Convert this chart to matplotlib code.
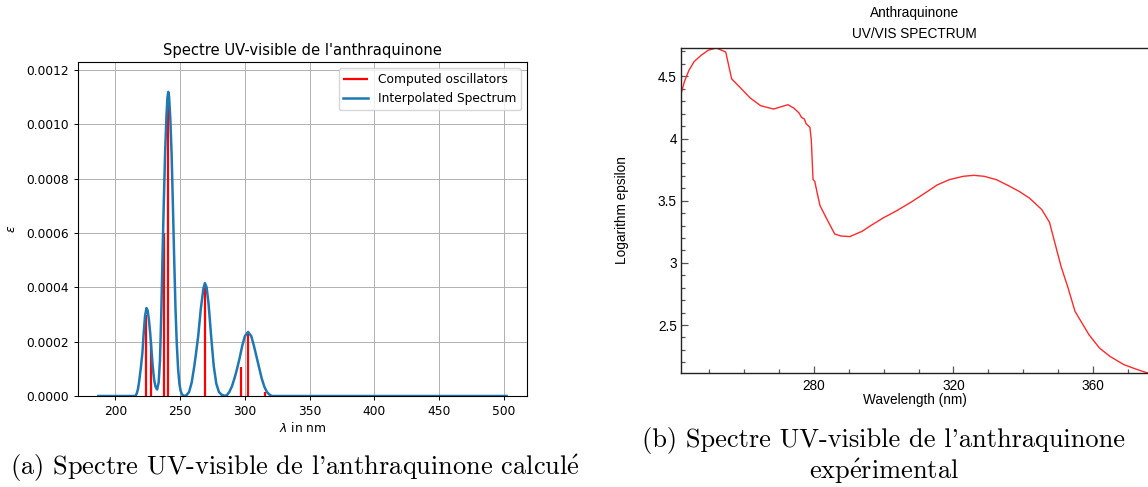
import matplotlib
matplotlib.use("Agg")
import matplotlib.pyplot as plt
from matplotlib.ticker import MultipleLocator, FuncFormatter

# computed oscillators (left plot)
osc_nm = [224.1, 227.4, 237.7, 240.8, 268.9, 296.9, 302.8, 315.6]
osc_eps = [3.0e-4, 2.0e-4, 6.0e-4, 1.08e-3, 4.04e-4, 1.08e-4, 2.31e-4, 1.5e-5]

# interpolated spectrum (units of 1e-4)
spec_nm = [187, 214, 215.5, 216.5, 217.5, 218.5, 219.5, 220, 221, 222, 223, 224.1,
           225, 226, 227, 228, 229, 230, 231, 232.3, 233.5, 234.5, 235.5, 236.5,
           237.5, 238.5, 239.5, 240.3, 240.9, 241.5, 242.5, 243.5, 244.5, 245.5,
           246.5, 247.5, 248.5, 249.5, 250.5, 251.5, 253, 255, 257, 259, 261, 262,
           264, 266, 268, 269.2, 270.5, 272, 274, 276, 278, 280, 282, 284, 286,
           288, 290, 292, 294, 296, 298, 300, 302.5, 305, 307, 309, 311, 313, 315,
           317, 319, 321, 502]
spec_val = [0, 0, 0, 0.08, 0.25, 0.55, 0.95, 1.15, 1.62, 2.35, 2.95, 3.24,
            3.15, 2.8, 2.3, 1.65, 1.05, 0.6, 0.35, 0.24, 0.5, 1.3, 3.0, 5.2,
            7.2, 9.0, 10.3, 11.0, 11.2, 11.05, 10.2, 8.9, 7.0, 5.0,
            3.2, 1.9, 1.0, 0.45, 0.18, 0.06, 0, 0.03, 0.15, 0.5, 1.1, 1.45,
            2.2, 3.2, 3.95, 4.16, 4.0, 3.4, 2.2, 1.1, 0.45, 0.15, 0.05, 0.01, 0.02,
            0.15, 0.35, 0.65, 1.0, 1.4, 1.85, 2.2, 2.36, 2.2, 1.85, 1.45, 1.05, 0.65, 0.35,
            0.15, 0.05, 0, 0]

# experimental spectrum (right plot)
exp_nm = [242.0, 243.0, 244.3, 245.8, 247.8, 249.8, 252.1, 254.8, 256.5, 258.8,
          261.8, 264.8, 268.5, 272.6, 274.3, 275.8, 276.5, 277.3, 277.8, 278.9,
          279.3, 279.8, 280.3, 281.0, 281.8, 283.8, 286.0, 287.8, 290.3, 293.8,
          295.8, 299.8, 303.8, 307.8, 311.8, 315.3, 318.8, 322.8, 325.8, 328.8,
          332.3, 335.8, 338.8, 341.8, 345.3, 347.5, 348.8, 350.8, 352.8, 354.8,
          356.8, 358.8, 361.8, 364.8, 368.8, 372.8, 375.6, 377.0]
exp_log = [4.358, 4.46, 4.55, 4.62, 4.67, 4.71, 4.728, 4.696, 4.48, 4.414,
           4.326, 4.264, 4.237, 4.272, 4.245, 4.205, 4.17, 4.157, 4.12, 4.09,
           3.99, 3.67, 3.655, 3.56, 3.46, 3.35, 3.232, 3.216, 3.211, 3.253,
           3.29, 3.36, 3.42, 3.487, 3.56, 3.626, 3.669, 3.696, 3.704, 3.696,
           3.669, 3.62, 3.575, 3.52, 3.428, 3.326, 3.186, 2.972, 2.8, 2.61,
           2.516, 2.422, 2.315, 2.248, 2.181, 2.14, 2.114, 2.10]

W, H = 1148, 487
fig = plt.figure(figsize=(W / 100, H / 100), dpi=100)

# ---- (a) computed spectrum
fs = 8.8
ax1 = fig.add_axes([78 / W, 1 - 396 / H, (527 - 78) / W, (396 - 62) / H])
ax1.vlines(osc_nm, 0, osc_eps, color="red", lw=1.6, label="Computed oscillators")
ax1.plot(spec_nm, [v * 1e-4 for v in spec_val], color="C0", lw=1.8,
         label="Interpolated Spectrum")
ax1.set_xlim(171.25, 517.75)
ax1.set_ylim(0, 0.00123)
ax1.set_xticks([200, 250, 300, 350, 400, 450, 500])
ax1.set_yticks([0, 0.0002, 0.0004, 0.0006, 0.0008, 0.0010, 0.0012])
ax1.yaxis.set_major_formatter(FuncFormatter(lambda v, p: f"{v:.4f}"))
ax1.tick_params(labelsize=fs, length=3, width=0.7)
ax1.grid(True, color="#b0b0b0", lw=0.7)
ax1.set_axisbelow(True)
ax1.set_title("Spectre UV-visible de l'anthraquinone", fontsize=10.6, pad=5)
ax1.set_xlabel(r"$\lambda$ in nm", fontsize=fs, labelpad=2)
ax1.set_ylabel(r"$\epsilon$", fontsize=fs, labelpad=6)
ax1.legend(loc="upper right", fontsize=fs)
for s in ax1.spines.values():
    s.set_linewidth(0.8)

# ---- (b) experimental spectrum
afont = "Liberation Sans"
fs2 = 9.8
ax2 = fig.add_axes([681 / W, 1 - 373 / H, (W - 681) / W, (373 - 48) / H])
ax2.plot(exp_nm, exp_log, color="#ff2a2a", lw=1.0)
ax2.set_xlim(242.0, 375.7)
ax2.set_ylim(2.114, 4.728)
ax2.xaxis.set_major_locator(MultipleLocator(40))
ax2.xaxis.set_minor_locator(MultipleLocator(10))
ax2.yaxis.set_major_locator(MultipleLocator(0.5))
ax2.yaxis.set_minor_locator(MultipleLocator(0.1))
ax2.yaxis.set_major_formatter(FuncFormatter(lambda v, p: f"{v:g}"))
ax2.tick_params(which="both", direction="in", color="#555555", width=0.9)
ax2.tick_params(which="major", length=5)
ax2.tick_params(which="minor", length=3)
ax2.tick_params(axis="y", pad=3)
ax2.tick_params(axis="x", pad=4)
for lab in ax2.get_xticklabels() + ax2.get_yticklabels():
    lab.set_fontfamily(afont)
    lab.set_fontsize(fs2)
ax2.spines["right"].set_visible(False)
for s in ax2.spines.values():
    s.set_linewidth(1.0)
    s.set_color("#222222")
ax2.set_xlabel("Wavelength (nm)", fontfamily=afont, fontsize=fs2)
ax2.xaxis.set_label_coords(0.5, (373 - 400) / 325)
ax2.xaxis.label.set_va("center")
ax2.set_ylabel("Logarithm epsilon", fontfamily=afont, fontsize=fs2)
ax2.yaxis.set_label_coords((622 - 681) / (W - 681), 0.5)
ax2.yaxis.label.set_va("center")
fig.text(914.5 / W, 1 - 13.5 / H, "Anthraquinone", family=afont, fontsize=fs2,
         ha="center", va="center")
fig.text(914.5 / W, 1 - 33.5 / H, "UV/VIS SPECTRUM", family=afont, fontsize=fs2,
         ha="center", va="center")

# ---- captions
plt.rcParams["mathtext.fontset"] = "cm"
cap = dict(family="cmr10", fontsize=19, ha="center", va="center")
fig.text(295 / W, 1 - 468 / H,
         r"(a) Spectre UV-visible de l'anthraquinone calcul$\mathrm{\acute{e}}$", **cap)
fig.text(884 / W, 1 - 440 / H, "(b) Spectre UV-visible de l'anthraquinone", **cap)
fig.text(884 / W, 1 - 471 / H, r"exp$\mathrm{\acute{e}}$rimental", **cap)

fig.savefig("out.png", dpi=100)
